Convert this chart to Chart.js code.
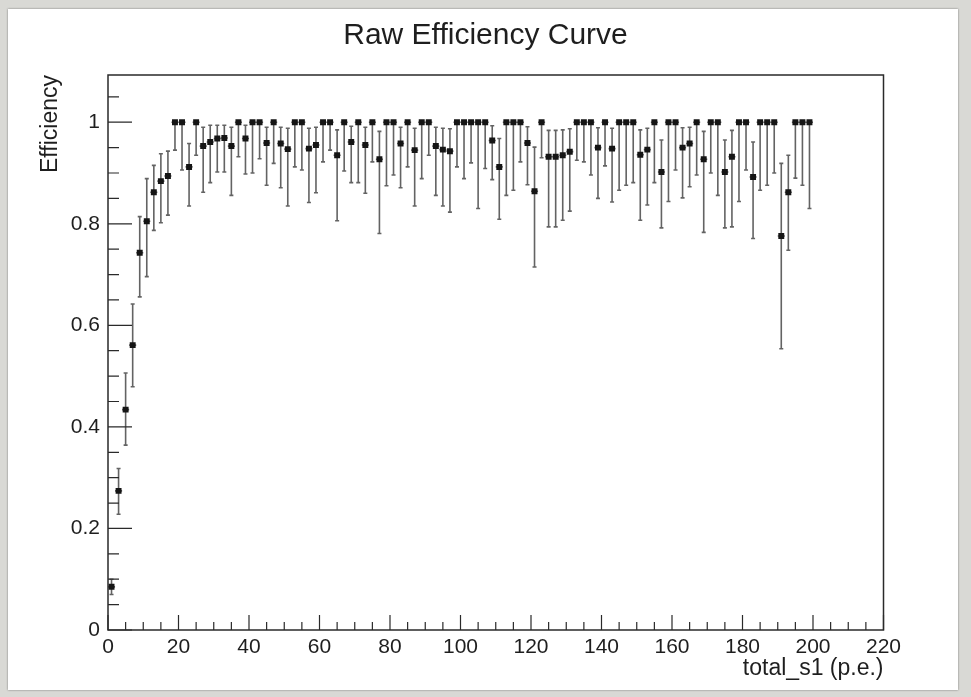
<!DOCTYPE html>
<html>
<head>
<meta charset="utf-8">
<script src="https://cdn.jsdelivr.net/npm/chart.js@4.4.1/dist/chart.umd.min.js"></script>
<style>
  html, body { margin: 0; padding: 0; }
  body { width: 971px; height: 697px; background: #d9d9d5; position: relative; overflow: hidden; }
  #panel { position: absolute; left: 8px; top: 9px; width: 950px; height: 681px; background: #fff;
           box-shadow: 0 0 2px rgba(0,0,0,0.45); }
  #c { position: absolute; left: 0; top: 0; }
</style>
</head>
<body>
<div id="panel"></div>
<canvas id="c" width="971" height="697"></canvas>
<script>
// bin centres of total_s1 (p.e.)
const binCenters = [
  1, 3, 5, 7, 9, 11, 13, 15, 17, 19,
  21, 23, 25, 27, 29, 31, 33, 35, 37, 39,
  41, 43, 45, 47, 49, 51, 53, 55, 57, 59,
  61, 63, 65, 67, 69, 71, 73, 75, 77, 79,
  81, 83, 85, 87, 89, 91, 93, 95, 97, 99,
  101, 103, 105, 107, 109, 111, 113, 115, 117, 119,
  121, 123, 125, 127, 129, 131, 133, 135, 137, 139,
  141, 143, 145, 147, 149, 151, 153, 155, 157, 159,
  161, 163, 165, 167, 169, 171, 173, 175, 177, 179,
  181, 183, 185, 187, 189, 191, 193, 195, 197, 199
];

const efficiency = [
  0.085, 0.274, 0.434, 0.561, 0.743, 0.805, 0.862, 0.884, 0.894, 1,
  1, 0.912, 1, 0.953, 0.961, 0.968, 0.969, 0.953, 1, 0.968,
  1, 1, 0.959, 1, 0.958, 0.947, 1, 1, 0.948, 0.955,
  1, 1, 0.935, 1, 0.961, 1, 0.955, 1, 0.927, 1,
  1, 0.958, 1, 0.945, 1, 1, 0.953, 0.946, 0.943, 1,
  1, 1, 1, 1, 0.964, 0.912, 1, 1, 1, 0.959,
  0.864, 1, 0.932, 0.932, 0.935, 0.942, 1, 1, 1, 0.95,
  1, 0.948, 1, 1, 1, 0.936, 0.946, 1, 0.902, 1,
  1, 0.95, 0.958, 1, 0.927, 1, 1, 0.902, 0.932, 1,
  1, 0.892, 1, 1, 1, 0.776, 0.862, 1, 1, 1
];

// lower end of each error bar
const effLower = [
  0.07, 0.228, 0.364, 0.479, 0.656, 0.696, 0.787, 0.802, 0.817, 0.945,
  0.906, 0.835, 0.935, 0.862, 0.881, 0.902, 0.902, 0.856, 0.932, 0.898,
  0.90, 0.928, 0.876, 0.919, 0.871, 0.835, 0.912, 0.906, 0.842, 0.861,
  0.922, 0.945, 0.806, 0.904, 0.881, 0.881, 0.86, 0.922, 0.781, 0.875,
  0.896, 0.871, 0.912, 0.835, 0.889, 0.935, 0.856, 0.835, 0.823, 0.912,
  0.889, 0.92, 0.83, 0.909, 0.887, 0.809, 0.856, 0.866, 0.922, 0.877,
  0.715, 0.93, 0.794, 0.794, 0.807, 0.825, 0.925, 0.922, 0.896, 0.85,
  0.914, 0.843, 0.866, 0.876, 0.881, 0.807, 0.837, 0.881, 0.792, 0.844,
  0.906, 0.851, 0.873, 0.896, 0.783, 0.90, 0.856, 0.792, 0.794, 0.844,
  0.906, 0.771, 0.866, 0.876, 0.90, 0.554, 0.748, 0.89, 0.876, 0.83
];

// upper end of each error bar
const effUpper = [
  0.10, 0.318, 0.506, 0.642, 0.814, 0.889, 0.915, 0.938, 0.943, 1,
  1, 0.958, 1, 0.99, 0.994, 0.994, 0.994, 0.99, 1, 0.994,
  1, 1, 0.99, 1, 0.99, 0.988, 1, 1, 0.988, 0.99,
  1, 1, 0.985, 1, 0.992, 1, 0.99, 1, 0.982, 1,
  1, 0.99, 1, 0.988, 1, 1, 0.99, 0.988, 0.987, 1,
  1, 1, 1, 1, 0.993, 0.968, 1, 1, 1, 0.991,
  0.951, 1, 0.984, 0.984, 0.985, 0.987, 1, 1, 1, 0.989,
  1, 0.988, 1, 1, 1, 0.985, 0.988, 1, 0.965, 1,
  1, 0.989, 0.99, 1, 0.982, 1, 1, 0.965, 0.984, 1,
  1, 0.961, 1, 1, 1, 0.919, 0.935, 1, 1, 1
];

const binHalfWidth = 1;
const xTickValues = [0, 20, 40, 60, 80, 100, 120, 140, 160, 180, 200, 220];
const yTickValues = [0, 0.2, 0.4, 0.6, 0.8, 1];

const FONT = '"Liberation Sans", Arial, Helvetica, sans-serif';
const INK = '#1e1e1e';

// error bars, frame and inward ticks in ROOT style
const rootStyle = {
  id: 'rootStyle',
  beforeDatasetsDraw(chart) {
    const ctx = chart.ctx;
    const xs = chart.scales.x, ys = chart.scales.y;
    ctx.save();
    ctx.strokeStyle = 'rgba(60,60,60,0.8)';
    ctx.lineWidth = 1.6;
    binCenters.forEach((x, i) => {
      const px = xs.getPixelForValue(x);
      const pLo = ys.getPixelForValue(effLower[i]);
      const pHi = ys.getPixelForValue(effUpper[i]);
      const py = ys.getPixelForValue(efficiency[i]);
      ctx.beginPath();
      ctx.moveTo(px, pLo); ctx.lineTo(px, pHi);
      ctx.moveTo(xs.getPixelForValue(x - binHalfWidth), py);
      ctx.lineTo(xs.getPixelForValue(x + binHalfWidth), py);
      ctx.moveTo(px - 2, pLo); ctx.lineTo(px + 2, pLo);
      if (effUpper[i] > efficiency[i]) { ctx.moveTo(px - 2, pHi); ctx.lineTo(px + 2, pHi); }
      ctx.stroke();
    });
    ctx.restore();
  },
  afterDraw(chart) {
    const ctx = chart.ctx;
    const a = chart.chartArea;
    const xs = chart.scales.x, ys = chart.scales.y;
    ctx.save();
    ctx.strokeStyle = '#2a2a2a';
    ctx.lineWidth = 1.5;
    ctx.strokeRect(a.left, a.top, a.right - a.left, a.bottom - a.top);
    ctx.lineWidth = 1.2;
    ctx.beginPath();
    for (let v = 0; v <= 220; v += 5) {
      const px = xs.getPixelForValue(v);
      const len = v % 20 === 0 ? 15 : 8;
      ctx.moveTo(px, a.bottom); ctx.lineTo(px, a.bottom - len);
    }
    for (let k = 0; k <= 21; k++) {
      const v = k * 0.05;
      const py = ys.getPixelForValue(v);
      if (py < a.top) continue;
      const len = k % 4 === 0 ? 24 : 11;
      ctx.moveTo(a.left, py); ctx.lineTo(a.left + len, py);
    }
    ctx.stroke();
    ctx.restore();
  }
};

const ctx = document.getElementById('c').getContext('2d');
new Chart(ctx, {
  type: 'scatter',
  data: {
    datasets: [{
      data: binCenters.map((x, i) => ({ x: x, y: efficiency[i] })),
      pointStyle: 'rect',
      pointRadius: 4.2,
      backgroundColor: '#151515',
      borderColor: '#151515',
      borderWidth: 0
    }]
  },
  options: {
    responsive: false,
    animation: false,
    layout: { padding: 0 },
    plugins: {
      legend: { display: false },
      tooltip: { enabled: false },
      title: {
        display: true,
        text: 'Raw Efficiency Curve',
        color: INK,
        font: { family: FONT, size: 30, weight: 'normal' },
        padding: { top: 18, bottom: 21 }
      }
    },
    scales: {
      x: {
        type: 'linear',
        min: 0,
        max: 220,
        afterBuildTicks: s => { s.ticks = xTickValues.map(v => ({ value: v })); },
        afterFit: s => { s.height = 67; },
        grid: { display: false, drawTicks: false },
        border: { display: false },
        ticks: { color: INK, font: { family: FONT, size: 21 }, padding: 5, maxRotation: 0, autoSkip: false },
        title: { display: true, text: 'total_s1 (p.e.)', align: 'end', color: INK,
                 font: { family: FONT, size: 23 }, padding: { top: 0, bottom: 15 } }
      },
      y: {
        type: 'linear',
        min: 0,
        max: 1.093,
        afterBuildTicks: s => { s.ticks = yTickValues.map(v => ({ value: v })); },
        afterFit: s => { s.width = 108; },
        grid: { display: false, drawTicks: false },
        border: { display: false },
        ticks: { color: INK, font: { family: FONT, size: 21 }, padding: 8,
                 callback: v => String(+v.toFixed(2)) },
        title: { display: true, text: 'Efficiency', align: 'end', color: INK,
                 font: { family: FONT, size: 23 }, padding: { top: 37, bottom: 0 } }
      },
      yRight: {
        type: 'linear',
        position: 'right',
        display: true,
        afterFit: s => { s.width = 87.5; },
        grid: { display: false, drawTicks: false },
        border: { display: false },
        ticks: { display: false }
      }
    }
  },
  plugins: [rootStyle]
});
</script>
</body>
</html>
